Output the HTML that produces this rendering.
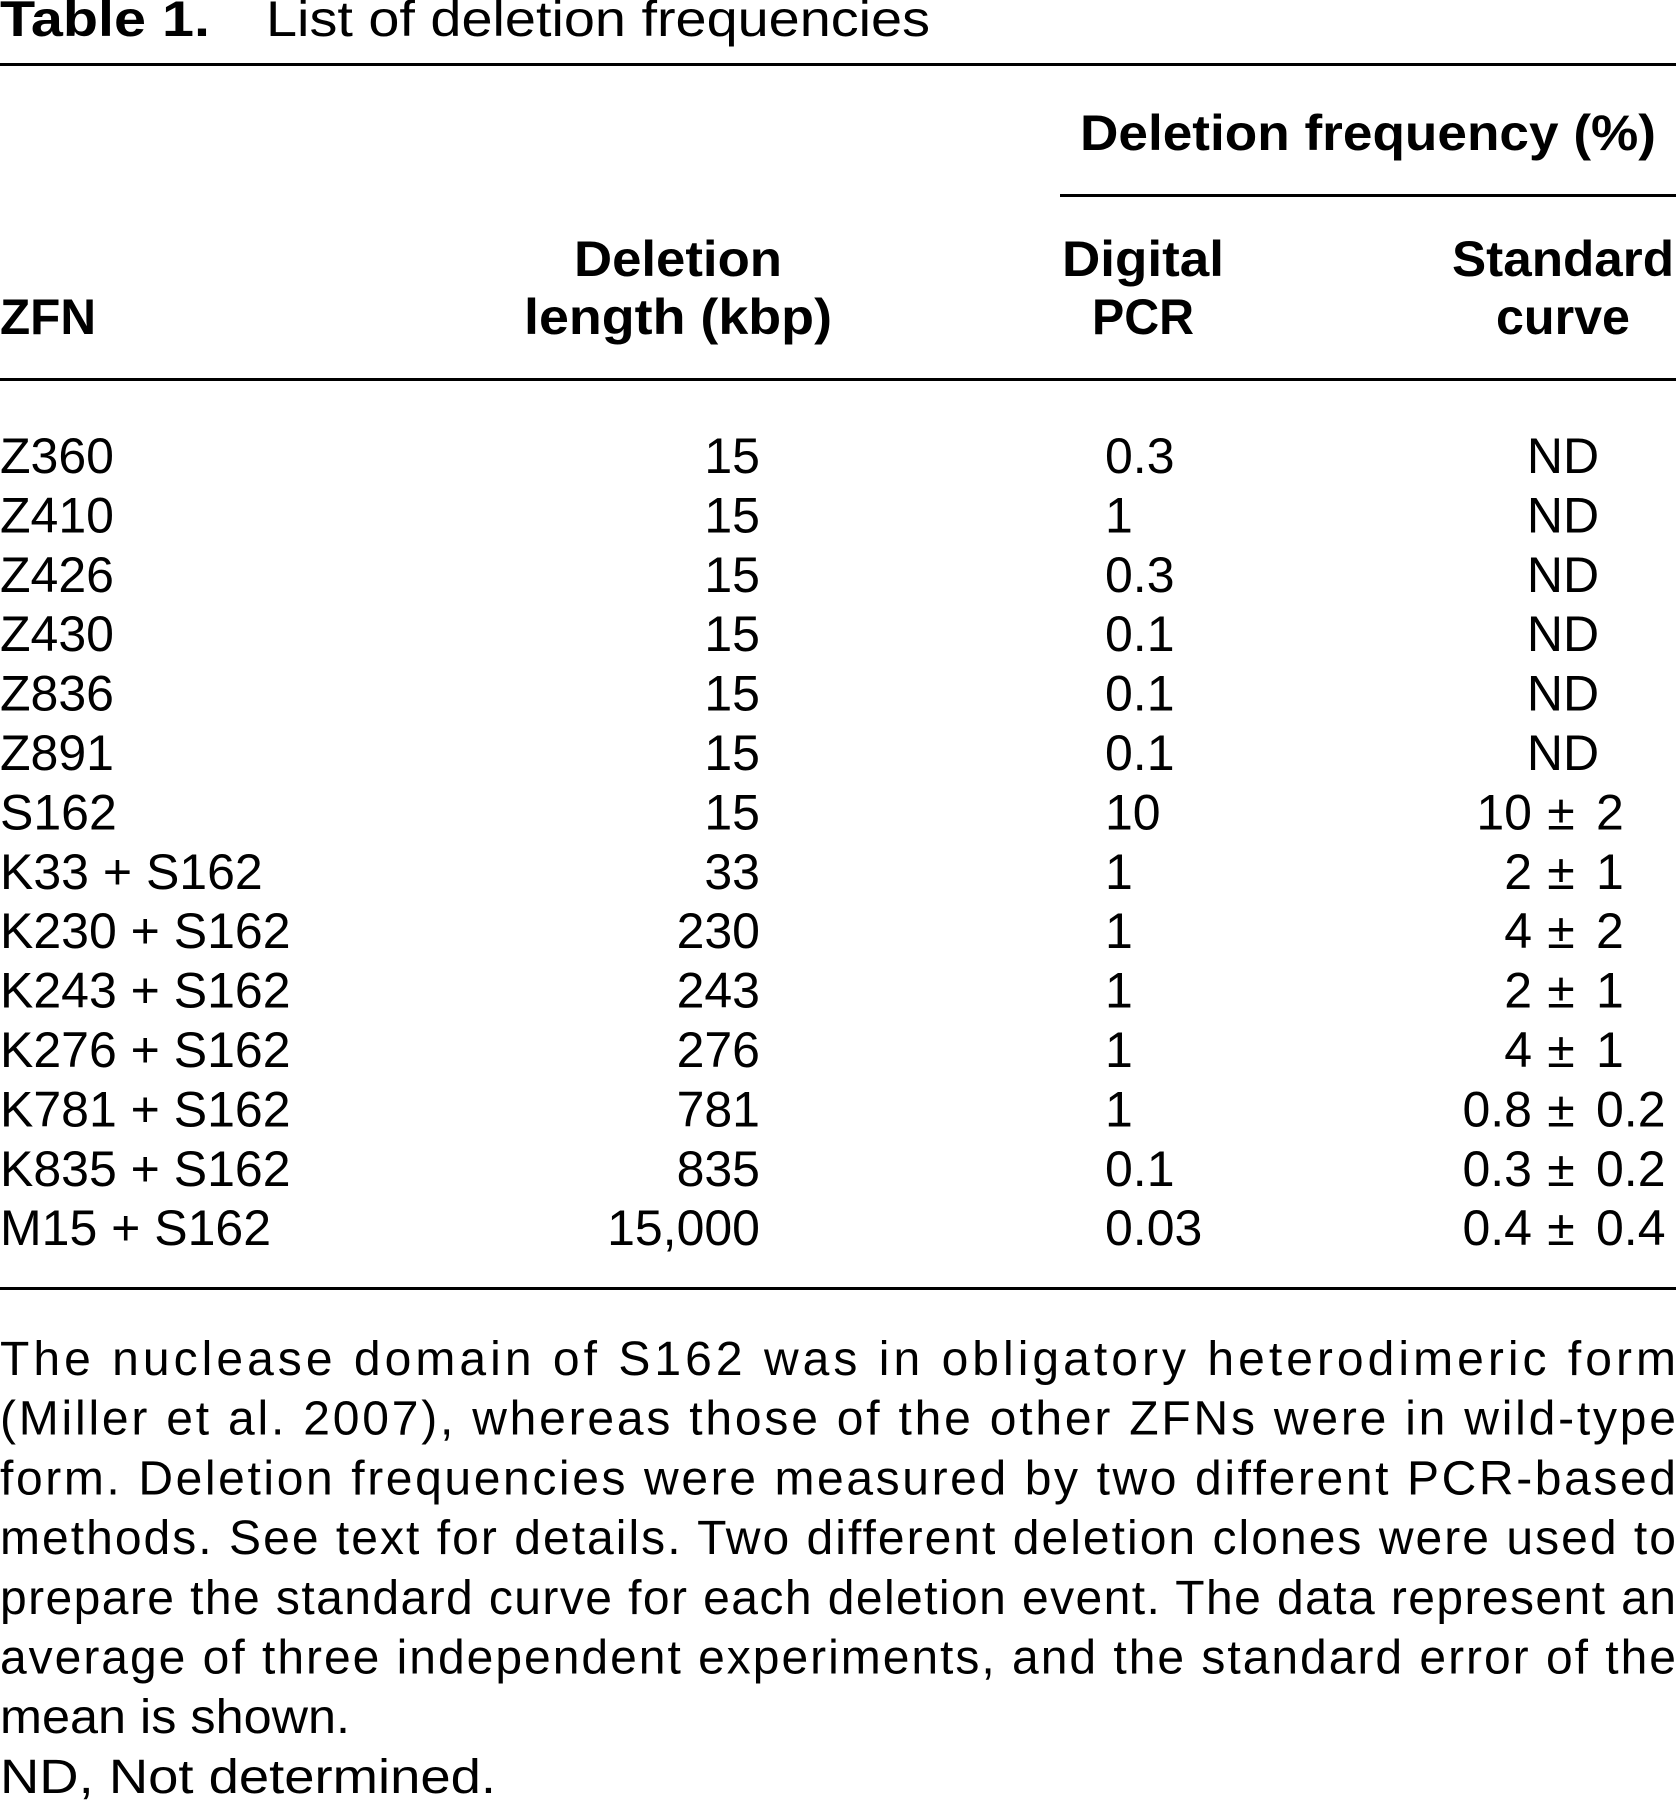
<!DOCTYPE html>
<html><head><meta charset="utf-8">
<style>
html,body{margin:0;padding:0;background:#fff;width:1676px;height:1800px;overflow:hidden}
svg{display:block}
text{font-family:"Liberation Sans",sans-serif;fill:#000}
.b{font-weight:bold}
</style></head>
<body>
<svg id="tbl" width="1676" height="1800" viewBox="0 0 1676 1800">
<text class="b" x="0" y="36" font-size="50" textLength="210" lengthAdjust="spacingAndGlyphs">Table 1.</text>
<text x="266" y="36" font-size="50" textLength="664" lengthAdjust="spacingAndGlyphs">List of deletion frequencies</text>
<rect x="0" y="63" width="1676" height="3"/>
<text class="b" x="1368" y="150" font-size="50" text-anchor="middle" textLength="576" lengthAdjust="spacingAndGlyphs">Deletion frequency (%)</text>
<rect x="1060" y="194" width="616" height="3"/>
<text class="b" x="0" y="334" font-size="50" textLength="96" lengthAdjust="spacingAndGlyphs">ZFN</text>
<text class="b" x="678" y="276" font-size="50" text-anchor="middle" textLength="208" lengthAdjust="spacingAndGlyphs">Deletion</text>
<text class="b" x="678" y="334" font-size="50" text-anchor="middle" textLength="308" lengthAdjust="spacingAndGlyphs">length (kbp)</text>
<text class="b" x="1143" y="276" font-size="50" text-anchor="middle" textLength="162" lengthAdjust="spacingAndGlyphs">Digital</text>
<text class="b" x="1143" y="334" font-size="50" text-anchor="middle" textLength="102" lengthAdjust="spacingAndGlyphs">PCR</text>
<text class="b" x="1563" y="276" font-size="50" text-anchor="middle" textLength="222" lengthAdjust="spacingAndGlyphs">Standard</text>
<text class="b" x="1563" y="334" font-size="50" text-anchor="middle" textLength="134" lengthAdjust="spacingAndGlyphs">curve</text>
<rect x="0" y="378" width="1676" height="3"/>
<g id="rows"></g>
<rect x="0" y="1287" width="1676" height="3"/>
<g id="notes"></g>
</svg>
<script>
const zfn=["Z360","Z410","Z426","Z430","Z836","Z891","S162","K33 + S162","K230 + S162","K243 + S162","K276 + S162","K781 + S162","K835 + S162","M15 + S162"];
const lengths=["15","15","15","15","15","15","15","33","230","243","276","781","835","15,000"];
const dpcr=["0.3","1","0.3","0.1","0.1","0.1","10","1","1","1","1","1","0.1","0.03"];
const stdMean=["ND","ND","ND","ND","ND","ND","10","2","4","2","4","0.8","0.3","0.4"];
const stdErr=["","","","","","","2","1","2","1","1","0.2","0.2","0.4"];
const notes=["The nuclease domain of S162 was in obligatory heterodimeric form","(Miller et al. 2007), whereas those of the other ZFNs were in wild-type","form. Deletion frequencies were measured by two different PCR-based","methods. See text for details. Two different deletion clones were used to","prepare the standard curve for each deletion event. The data represent an","average of three independent experiments, and the standard error of the","mean is shown.","ND, Not determined."];
const NS="http://www.w3.org/2000/svg";
function rowY(i){return 473+i*59.4;}
function mk(parent,txt,x,y,anchor,fs){
  const t=document.createElementNS(NS,"text");
  t.setAttribute("x",x);t.setAttribute("y",y);t.setAttribute("font-size",fs||50);
  if(anchor)t.setAttribute("text-anchor",anchor);
  t.textContent=txt;parent.appendChild(t);return t;
}
const rows=document.getElementById("rows");
for(let i=0;i<zfn.length;i++){
  const y=rowY(i);
  const g=document.createElementNS(NS,"g");
  
  
  rows.appendChild(g);
  let t=mk(g,zfn[i],0,y);
  
  
  t=mk(g,lengths[i],760,y,"end");
  
  
  t=mk(g,dpcr[i],1105,y);
  
  
  if(stdErr[i]===""){
    t=mk(g,stdMean[i],1563,y,"middle");
    
    
  }else{
    t=mk(g,stdMean[i],1532,y,"end");
    
    
    t=mk(g,"±",1561,y,"middle");
    
    
    t=mk(g,stdErr[i],1596,y);
    
    
  }
}
const nwidths=[1676,1676,1676,1676,1676,1676,350,496];
const ng=document.getElementById("notes");
for(let i=0;i<notes.length;i++){
  const t=mk(ng,notes[i],0,1375+i*59.7,null,48);
  t.setAttribute("textLength",nwidths[i]);
  t.setAttribute("lengthAdjust",i<6?"spacing":"spacingAndGlyphs");
  
  
}
</script>
</body></html>
